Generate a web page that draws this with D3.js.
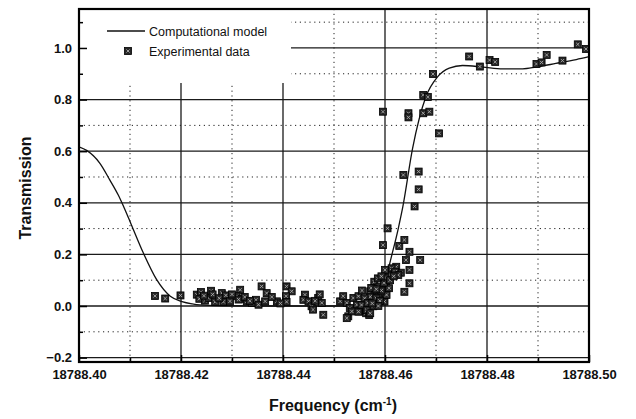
<!DOCTYPE html>
<html lang="en">
<head>
<meta charset="UTF-8">
<title>Transmission vs Frequency</title>
<script src="https://d3js.org/d3.v7.min.js"></script>
<style>
  body { margin: 0; background: #fff; }
  text { font-family: "Liberation Sans", Arial, sans-serif; fill: #111; }
  .major { stroke: #1a1a1a; stroke-width: 1.3; }
  .minor { stroke: #222; stroke-width: 1; stroke-dasharray: 1.2 3.6; }
  .frame { fill: none; stroke: #000; stroke-width: 2.2; }
  .axis path { display: none; }
  .axis line { stroke: #000; stroke-width: 1.5; }
  .axis text { font-size: 13px; font-weight: bold; }
</style>
</head>
<body>
<script>
// model curve
const modelFreq = [18788.4000, 18788.4015, 18788.4041, 18788.4060, 18788.4077, 18788.4090,
  18788.4102, 18788.4126, 18788.4152, 18788.4179, 18788.4202, 18788.4222, 18788.4237,
  18788.4280, 18788.4350, 18788.4450, 18788.4560, 18788.4585, 18788.4595, 18788.4603,
  18788.4626, 18788.4635, 18788.4654, 18788.4680, 18788.4703, 18788.4726, 18788.4752,
  18788.4792, 18788.4831, 18788.4870, 18788.4896, 18788.4935, 18788.4975, 18788.5000];
const modelTrans = [0.617, 0.603, 0.553, 0.490, 0.430, 0.374,
  0.318, 0.206, 0.103, 0.038, 0.017, 0.008, 0.004,
  0.001, 0.000, 0.000, 0.000, 0.003, 0.030, 0.110,
  0.300, 0.385, 0.610, 0.810, 0.888, 0.922, 0.932,
  0.926, 0.919, 0.919, 0.926, 0.940, 0.955, 0.966];

// experimental points
const expFreq = [18788.4149, 18788.4169, 18788.4199, 18788.4231, 18788.4239, 18788.4236,
  18788.4247, 18788.4259, 18788.4254, 18788.4267, 18788.4280, 18788.4288, 18788.4283,
  18788.4296, 18788.4316, 18788.4309, 18788.4319, 18788.4329, 18788.4339, 18788.4347,
  18788.4352, 18788.4358, 18788.4368, 18788.4365, 18788.4388, 18788.4407, 18788.4417,
  18788.4406, 18788.4407, 18788.4443, 18788.4440, 18788.4450, 18788.4456, 18788.4459,
  18788.4469, 18788.4476, 18788.4479, 18788.4512, 18788.4518, 18788.4525, 18788.4531,
  18788.4528, 18788.4538, 18788.4548, 18788.4545, 18788.4551, 18788.4561, 18788.4567,
  18788.4574, 18788.4571, 18788.4577, 18788.4535, 18788.4525, 18788.4563, 18788.4569,
  18788.4579, 18788.4586, 18788.4589, 18788.4596, 18788.4599, 18788.4602, 18788.4608,
  18788.4605, 18788.4615, 18788.4622, 18788.4631, 18788.4596, 18788.4605, 18788.4628,
  18788.4638, 18788.4641, 18788.4648, 18788.4648, 18788.4648, 18788.4638, 18788.4669,
  18788.4580, 18788.4571, 18788.4587, 18788.4603, 18788.4548, 18788.4554, 18788.4564,
  18788.4571, 18788.4607, 18788.4613, 18788.4620, 18788.4626, 18788.4600,
  18788.4658, 18788.4636, 18788.4666, 18788.4666, 18788.4596, 18788.4646, 18788.4646,
  18788.4675, 18788.4684, 18788.4675, 18788.4687, 18788.4706, 18788.4694,
  18788.4765, 18788.4786, 18788.4805, 18788.4816, 18788.4897, 18788.4907, 18788.4917,
  18788.4948, 18788.4978, 18788.4994,
  18788.4555, 18788.4560, 18788.4566, 18788.4573, 18788.4583, 18788.4590, 18788.4593,
  18788.4598, 18788.4600, 18788.4610, 18788.4617, 18788.4583, 18788.4593, 18788.4587,
  18788.4575, 18788.4300, 18788.4313, 18788.4325, 18788.4335, 18788.4245, 18788.4262,
  18788.4275, 18788.4378, 18788.4395, 18788.4463, 18788.4472];
const expTrans = [0.039, 0.029, 0.041, 0.044, 0.054, 0.028,
  0.021, 0.059, 0.031, 0.016, 0.050, 0.041, 0.016,
  0.018, 0.063, 0.038, 0.028, 0.018, 0.012, 0.024,
  0.005, 0.076, 0.050, 0.018, 0.018, 0.076, 0.057,
  0.038, 0.016, 0.044, 0.024, 0.018, -0.001, -0.014,
  0.031, 0.012, -0.034, 0.018, 0.038, 0.012, -0.008,
  -0.040, 0.031, 0.038, 0.005, -0.021, -0.001, -0.021,
  0.024, 0.057, -0.001, -0.021, -0.047, -0.028, -0.035,
  0.094, 0.107, 0.075, 0.049, 0.017, 0.088, 0.069,
  0.127, 0.133, 0.152, 0.129, 0.236, 0.301, 0.233,
  0.256, 0.178, 0.210, 0.140, 0.088, 0.055, 0.178,
  0.055, 0.036, 0.036, 0.043, -0.022, 0.004, -0.016,
  -0.028, 0.120, 0.146, 0.133, 0.120, 0.140,
  0.386, 0.508, 0.521, 0.452, 0.753, 0.747, 0.731,
  0.818, 0.810, 0.747, 0.753, 0.669, 0.899,
  0.967, 0.928, 0.953, 0.946, 0.938, 0.944, 0.973,
  0.951, 1.014, 0.996,
  0.060, 0.030, 0.012, 0.070, 0.030, 0.020, 0.060,
  0.090, 0.110, 0.100, 0.115, 0.065, 0.115, 0.000,
  0.010, 0.045, 0.025, 0.035, 0.020, 0.040, 0.045,
  0.030, 0.035, 0.010, 0.020, 0.045];

// ticks and grid
const xTicks = [18788.40, 18788.42, 18788.44, 18788.46, 18788.48, 18788.50];
const xMinor = [18788.41, 18788.43, 18788.45, 18788.47, 18788.49];
const yTicks = [-0.2, 0.0, 0.2, 0.4, 0.6, 0.8, 1.0];
const yMinor = [-0.1, 0.1, 0.3, 0.5, 0.7, 0.9, 1.1];

const width = 636, height = 419;
const plotL = 79, plotR = 589, plotT = 9, plotB = 362;

const svg = d3.select('body').append('svg')
  .attr('width', width)
  .attr('height', height);

const x = d3.scaleLinear().domain([18788.40, 18788.50]).range([plotL, plotR]);
const y = d3.scaleLinear().domain([-0.217, 1.151]).range([plotB, plotT]);

svg.append('defs').append('clipPath').attr('id', 'plot')
  .append('rect')
  .attr('x', plotL).attr('y', plotT)
  .attr('width', plotR - plotL).attr('height', plotB - plotT);

// grid
const grid = svg.append('g');
grid.selectAll('.vmaj').data(xTicks.slice(1, -1)).enter().append('line')
  .attr('class', 'major')
  .attr('x1', d => x(d)).attr('x2', d => x(d))
  .attr('y1', plotT).attr('y2', plotB);
grid.selectAll('.vmin').data(xMinor).enter().append('line')
  .attr('class', 'minor')
  .attr('x1', d => x(d)).attr('x2', d => x(d))
  .attr('y1', plotT).attr('y2', plotB);
grid.selectAll('.hmaj').data(yTicks).enter().append('line')
  .attr('class', 'major')
  .attr('x1', plotL).attr('x2', plotR)
  .attr('y1', d => y(d)).attr('y2', d => y(d));
grid.selectAll('.hmin').data(yMinor).enter().append('line')
  .attr('class', 'minor')
  .attr('x1', plotL).attr('x2', plotR)
  .attr('y1', d => y(d)).attr('y2', d => y(d));

// legend box hides the grid behind it
svg.append('rect')
  .attr('x', plotL + 1).attr('y', plotT + 1)
  .attr('width', 211).attr('height', 73)
  .attr('fill', '#fff');

// model line
const line = d3.line()
  .x((d, i) => x(modelFreq[i]))
  .y(d => y(d))
  .curve(d3.curveMonotoneX);

svg.append('path')
  .datum(modelTrans)
  .attr('d', line)
  .attr('fill', 'none')
  .attr('stroke', '#111')
  .attr('stroke-width', 1.3);

// markers
function marker(g) {
  g.append('rect')
    .attr('x', -3.5).attr('y', -3.5).attr('width', 7).attr('height', 7)
    .attr('fill', '#262626').attr('stroke', '#000').attr('stroke-width', 0.8);
  g.append('path')
    .attr('d', 'M-1.6,-1.6L1.6,1.6M-1.6,1.6L1.6,-1.6')
    .attr('stroke', '#aaa').attr('stroke-width', 0.9);
}

svg.append('g').attr('clip-path', 'url(#plot)')
  .selectAll('g').data(expTrans).enter().append('g')
  .attr('transform', (d, i) => `translate(${x(expFreq[i])},${y(d)})`)
  .each(function () { marker(d3.select(this)); });

// axes with inward ticks
svg.append('g').attr('class', 'axis')
  .attr('transform', `translate(0,${plotB})`)
  .call(d3.axisBottom(x).tickValues(xTicks).tickFormat(d3.format('.2f'))
    .tickSizeInner(-7).tickSizeOuter(0).tickPadding(8));
svg.append('g').attr('class', 'axis')
  .attr('transform', `translate(0,${plotB})`)
  .call(d3.axisBottom(x).tickValues(xMinor).tickFormat('').tickSizeInner(-4).tickSizeOuter(0));
svg.append('g').attr('class', 'axis')
  .attr('transform', `translate(${plotL},0)`)
  .call(d3.axisLeft(y).tickValues(yTicks).tickFormat(d3.format('.1f'))
    .tickSizeInner(-8).tickSizeOuter(0).tickPadding(7));
svg.append('g').attr('class', 'axis')
  .attr('transform', `translate(${plotL},0)`)
  .call(d3.axisLeft(y).tickValues(yMinor).tickFormat('').tickSizeInner(-4).tickSizeOuter(0));

// frame
svg.append('rect').attr('class', 'frame')
  .attr('x', plotL).attr('y', plotT)
  .attr('width', plotR - plotL).attr('height', plotB - plotT);

// legend
const lg = svg.append('g');
lg.append('line')
  .attr('x1', 107).attr('x2', 145).attr('y1', 31).attr('y2', 31)
  .attr('stroke', '#111').attr('stroke-width', 1.3);
lg.append('text').attr('x', 149).attr('y', 35.5)
  .style('font-size', '12.5px').text('Computational model');
marker(lg.append('g').attr('transform', 'translate(128,51)'));
lg.append('text').attr('x', 149).attr('y', 55.5)
  .style('font-size', '12.5px').text('Experimental data');

// axis titles
svg.append('text')
  .attr('transform', 'translate(31,188) rotate(-90)')
  .attr('text-anchor', 'middle')
  .style('font-size', '16px').style('font-weight', 'bold')
  .text('Transmission');

const xt = svg.append('text')
  .attr('x', 333).attr('y', 411)
  .attr('text-anchor', 'middle')
  .style('font-size', '16px').style('font-weight', 'bold');
xt.append('tspan').text('Frequency (cm');
xt.append('tspan').attr('dy', -6).style('font-size', '10px').text('-1');
xt.append('tspan').attr('dy', 6).text(')');
</script>
</body>
</html>
